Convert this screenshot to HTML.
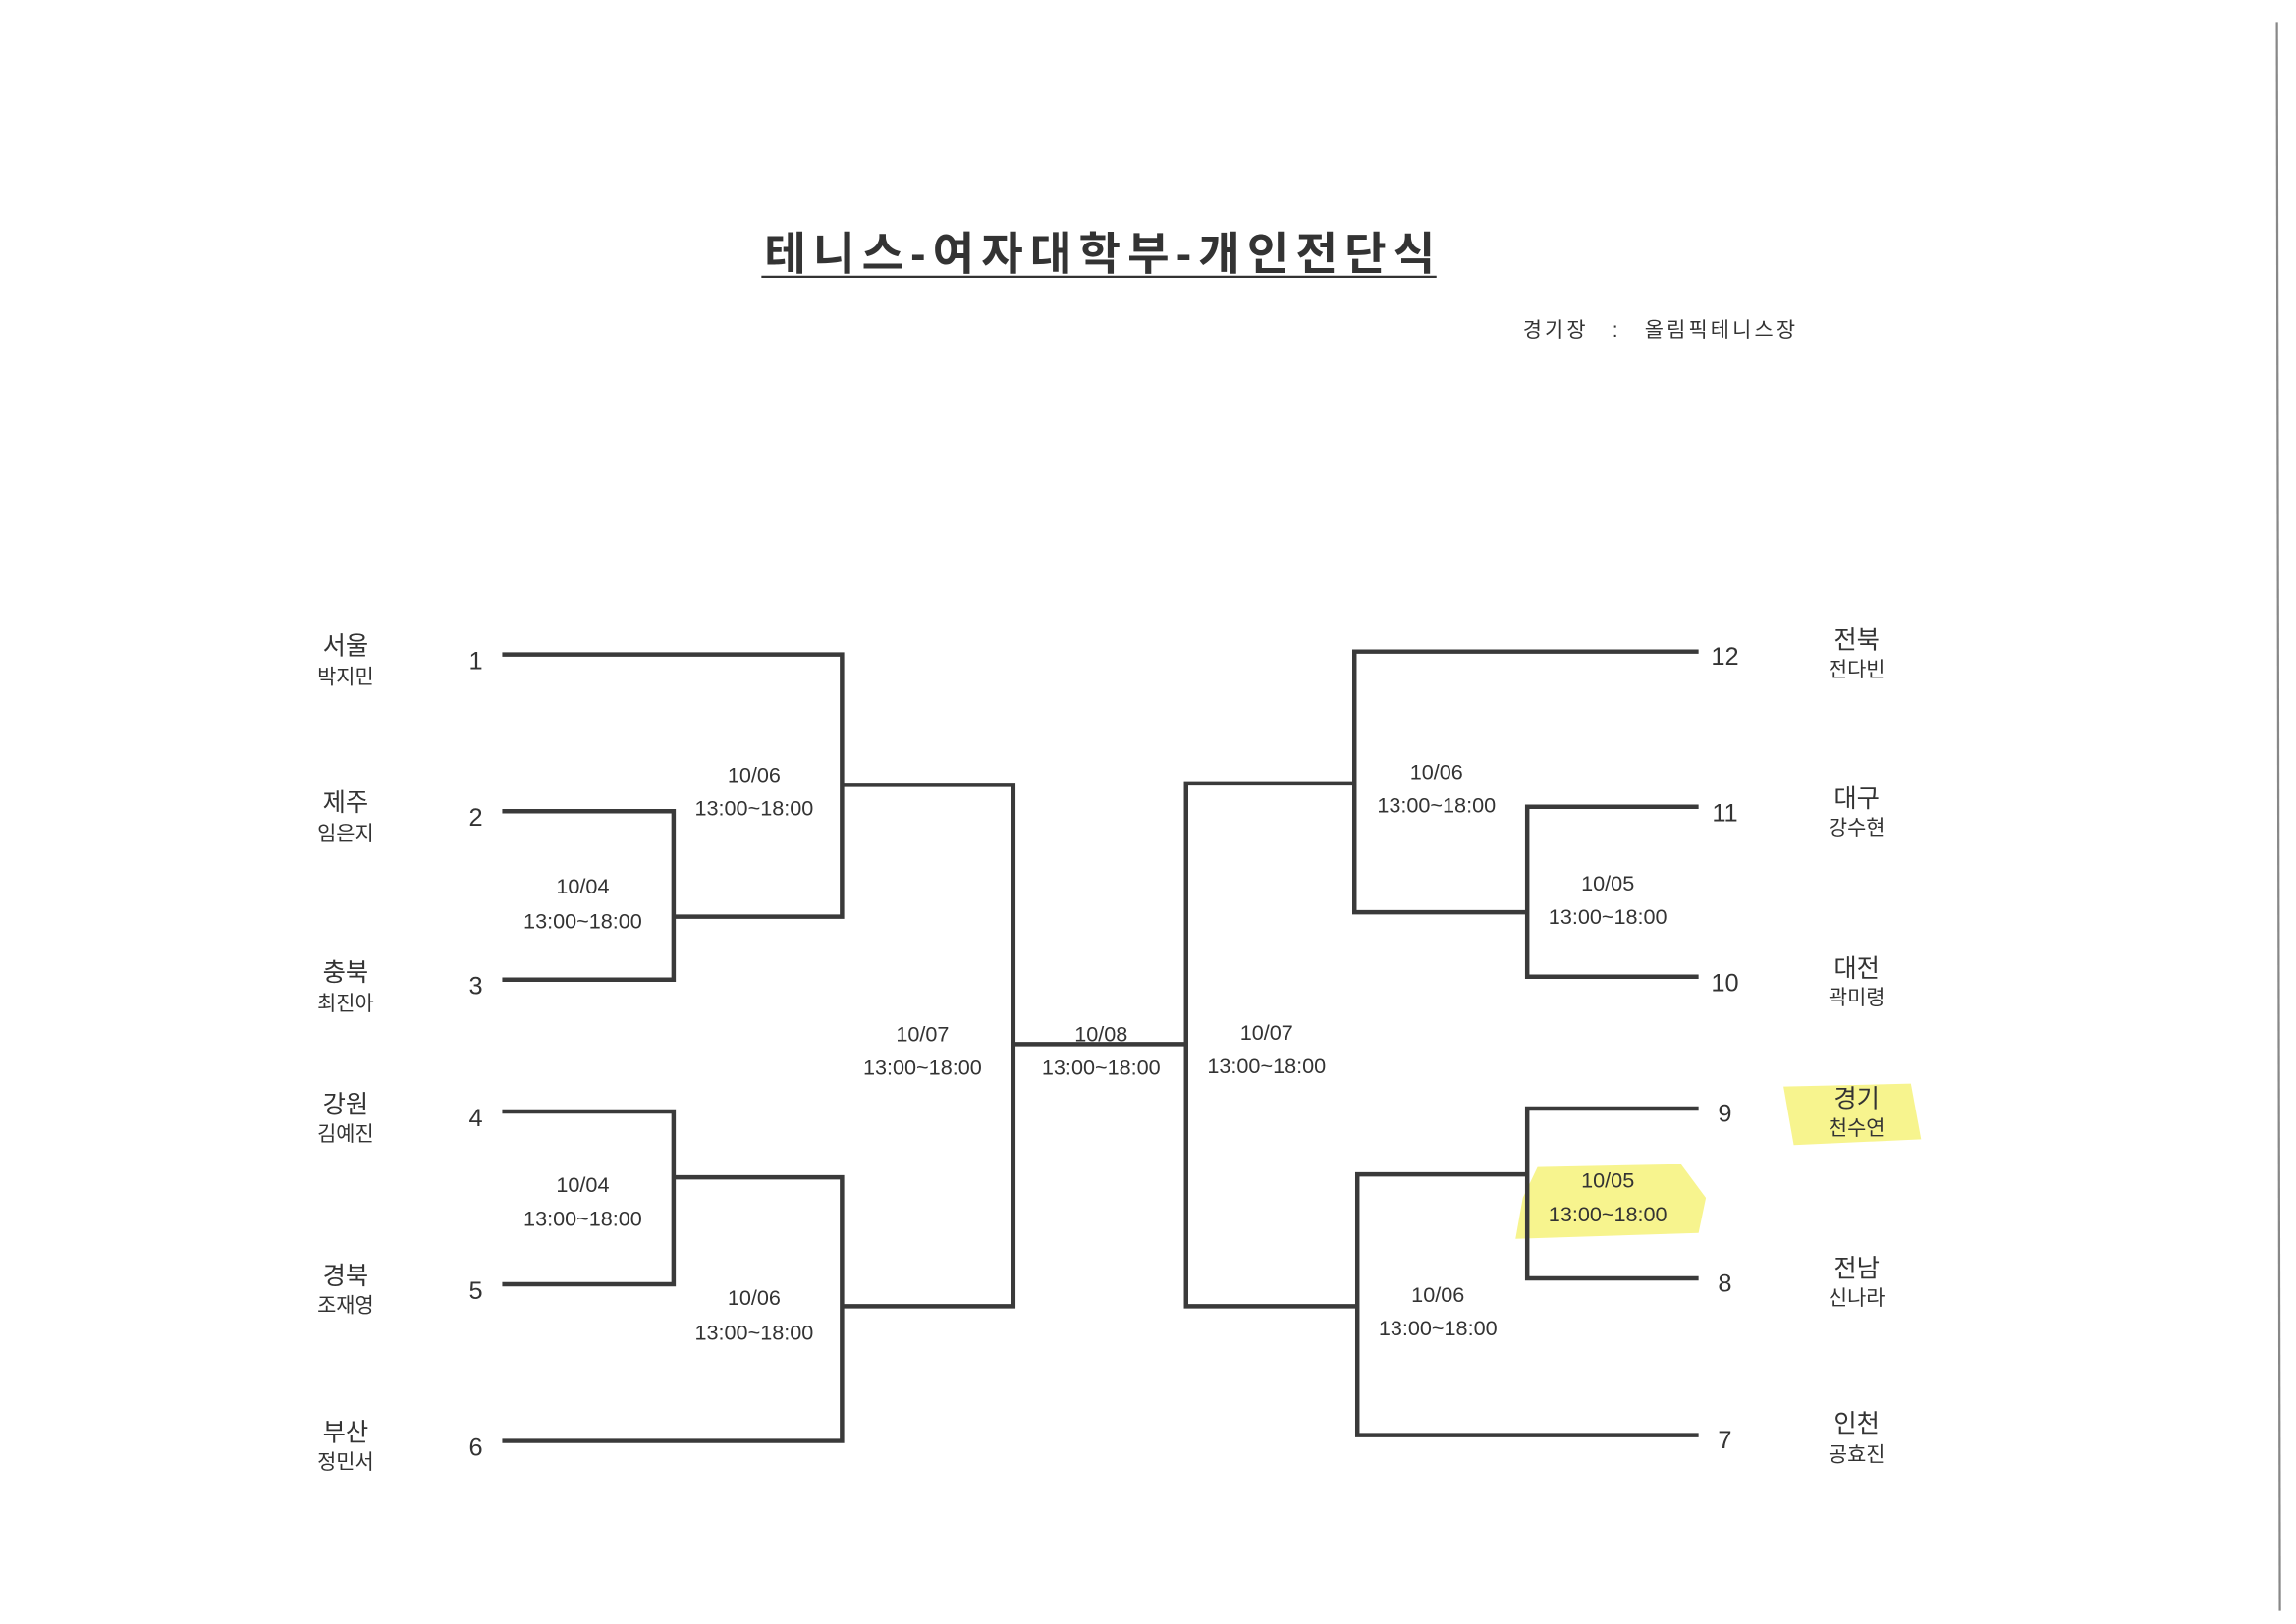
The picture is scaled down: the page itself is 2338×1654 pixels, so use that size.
<!DOCTYPE html>
<html><head><meta charset="utf-8"><style>
html,body{margin:0;padding:0;background:#fff;}
svg{display:block;}
text{font-family:"Liberation Sans","Noto Sans CJK KR","NanumGothic",sans-serif;fill:#333;}
</style></head><body>
<svg width="2338" height="1654" viewBox="0 0 1568 1109" preserveAspectRatio="none" xmlns="http://www.w3.org/2000/svg">
<rect width="1568" height="1109" fill="#fff"/>
<line x1="1555" y1="15" x2="1557" y2="1100" stroke="#888" stroke-width="1.5"/>
<path d="M1218 742 L1305 740 L1312 778 L1225 782 Z" fill="#f6f27a" opacity="0.85"/>
<path d="M1050 797 L1148 795 L1165 818 L1160 842 L1035 846 L1040 818 Z" fill="#f6f27a" opacity="0.85"/>
<text x="522" y="184" font-size="31" font-weight="bold" textLength="458" lengthAdjust="spacing" fill="#333">테니스-여자대학부-개인전단식</text>
<line x1="520" y1="189" x2="981" y2="189" stroke="#333" stroke-width="1.5"/>
<text x="1040" y="230" font-size="14" textLength="186" lengthAdjust="spacing">경기장　:　올림픽테니스장</text>
<g stroke="#3a3a3a" stroke-width="3" fill="none">
<polyline points="343,447 575,447 575,626 460,626"/>
<polyline points="343,554 460,554 460,669 343,669"/>
<polyline points="575,536 692,536 692,892 575,892"/>
<polyline points="343,759 460,759 460,877 343,877"/>
<polyline points="460,804 575,804 575,984 343,984"/>
<line x1="692" y1="713" x2="810" y2="713"/>
<polyline points="925,535 810,535 810,892 927,892"/>
<polyline points="1160,445 925,445 925,623 1043,623"/>
<polyline points="1160,551 1043,551 1043,667 1160,667"/>
<polyline points="1043,802 927,802 927,980 1160,980"/>
<polyline points="1160,757 1043,757 1043,873 1160,873"/>
</g>
<g font-size="17" text-anchor="middle">
<text x="325" y="457">1</text><text x="325" y="564">2</text><text x="325" y="679">3</text>
<text x="325" y="769">4</text><text x="325" y="887">5</text><text x="325" y="994">6</text>
<text x="1178" y="454">12</text><text x="1178" y="561">11</text><text x="1178" y="677">10</text>
<text x="1178" y="766">9</text><text x="1178" y="882">8</text><text x="1178" y="989">7</text>
</g>
<g text-anchor="middle">
<g font-size="17">
<text x="236" y="447">서울</text><text x="236" y="554">제주</text><text x="236" y="670">충북</text>
<text x="236" y="760">강원</text><text x="236" y="877">경북</text><text x="236" y="984">부산</text>
<text x="1268" y="443">전북</text><text x="1268" y="551">대구</text><text x="1268" y="667">대전</text>
<text x="1268" y="756">경기</text><text x="1268" y="872">전남</text><text x="1268" y="978">인천</text>
</g>
<g font-size="14">
<text x="236" y="467">박지민</text><text x="236" y="574">임은지</text><text x="236" y="690">최진아</text>
<text x="236" y="779">김예진</text><text x="236" y="896">조재영</text><text x="236" y="1003">정민서</text>
<text x="1268" y="462">전다빈</text><text x="1268" y="570">강수현</text><text x="1268" y="686">곽미령</text>
<text x="1268" y="775">천수연</text><text x="1268" y="891">신나라</text><text x="1268" y="998">공효진</text>
</g>
<g font-size="14.5">
<text x="515" y="534">10/06</text><text x="515" y="557">13:00~18:00</text>
<text x="398" y="610">10/04</text><text x="398" y="634">13:00~18:00</text>
<text x="398" y="814">10/04</text><text x="398" y="837">13:00~18:00</text>
<text x="515" y="891">10/06</text><text x="515" y="915">13:00~18:00</text>
<text x="630" y="711">10/07</text><text x="630" y="734">13:00~18:00</text>
<text x="752" y="711">10/08</text><text x="752" y="734">13:00~18:00</text>
<text x="865" y="710">10/07</text><text x="865" y="733">13:00~18:00</text>
<text x="981" y="532">10/06</text><text x="981" y="555">13:00~18:00</text>
<text x="1098" y="608">10/05</text><text x="1098" y="631">13:00~18:00</text>
<text x="1098" y="811">10/05</text><text x="1098" y="834">13:00~18:00</text>
<text x="982" y="889">10/06</text><text x="982" y="912">13:00~18:00</text>
</g>
</g>
</svg>
</body></html>
